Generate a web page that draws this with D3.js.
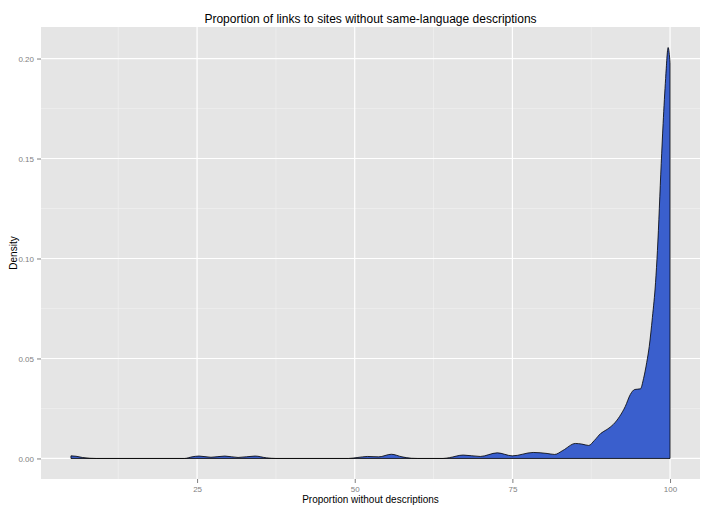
<!DOCTYPE html>
<html>
<head>
<meta charset="utf-8">
<script src="https://cdn.jsdelivr.net/npm/d3@7"></script>
<style>
  html, body { margin: 0; padding: 0; background: #ffffff; }
  svg { display: block; font-family: "Liberation Sans", Arial, Helvetica, sans-serif; }
</style>
</head>
<body>
<svg id="chart" width="712" height="512"></svg>
<script>
// ---- data ----
const densityX = [5, 5.8, 6.8, 8, 9, 23, 24.2, 25.3, 27.2, 29.4, 31.5, 34.2, 36, 37.5,
  49, 50.5, 52, 53.8, 55.8, 57.5, 59, 60, 64, 65, 67.2, 69.9, 72.6, 75, 78.3, 80.5, 81.7,
  83, 85, 86, 87.1, 88, 89, 90, 91, 92, 92.9, 93.7, 94.4, 95.3, 95.8, 96.3, 96.7, 97.2,
  97.7, 98.0, 98.6, 98.9, 99.3, 99.7, 100];
const densityY = [0.0013, 0.0011, 0.0005, 0.0001, 0, 0, 0.0008, 0.0012, 0.0006, 0.0012, 0.0005, 0.0012, 0.0003, 0,
  0, 0.0005, 0.0010, 0.0008, 0.0021, 0.0008, 0.0001, 0, 0, 0.0004, 0.0017, 0.0010, 0.0028, 0.0013, 0.0030, 0.0025, 0.0020,
  0.0040, 0.0075, 0.0072, 0.0065, 0.0090, 0.0125, 0.0145, 0.0170, 0.0210, 0.0260, 0.0320, 0.0345, 0.0348, 0.0400, 0.0480, 0.0560, 0.0705,
  0.0880, 0.1040, 0.1475, 0.1675, 0.1900, 0.2055, 0.1980];
const xTicks = [25, 50, 75, 100];
const xMinor = [12.5, 37.5, 62.5, 87.5];
const yTicks = [0, 0.05, 0.10, 0.15, 0.20];
const yMinor = [0.025, 0.075, 0.125, 0.175];
const titleText = "Proportion of links to sites without same-language descriptions";
const xLabel = "Proportion without descriptions";
const yLabel = "Density";

// ---- layout ----
const svg = d3.select("#chart");
const panel = { left: 41, right: 700, top: 27, bottom: 479 };

const xMin = d3.min(densityX), xMax = d3.max(densityX);
const xPad = (xMax - xMin) * 0.05;
const yMaxD = d3.max(densityY);
const yPad = yMaxD * 0.05;

const x = d3.scaleLinear().domain([xMin - xPad, xMax + xPad]).range([panel.left, panel.right]);
const y = d3.scaleLinear().domain([-yPad, yMaxD + yPad]).range([panel.bottom, panel.top]);

// panel background
svg.append("rect")
  .attr("x", panel.left).attr("y", panel.top)
  .attr("width", panel.right - panel.left).attr("height", panel.bottom - panel.top)
  .attr("fill", "#E5E5E5");

const grid = svg.append("g");
// minor grid
grid.selectAll(".vminor").data(xMinor).enter().append("line")
  .attr("x1", d => x(d)).attr("x2", d => x(d))
  .attr("y1", panel.top).attr("y2", panel.bottom)
  .attr("stroke", "#F2F2F2").attr("stroke-width", 0.6);
grid.selectAll(".hminor").data(yMinor).enter().append("line")
  .attr("y1", d => y(d)).attr("y2", d => y(d))
  .attr("x1", panel.left).attr("x2", panel.right)
  .attr("stroke", "#F2F2F2").attr("stroke-width", 0.6);
// major grid
grid.selectAll(".vmajor").data(xTicks).enter().append("line")
  .attr("x1", d => x(d)).attr("x2", d => x(d))
  .attr("y1", panel.top).attr("y2", panel.bottom)
  .attr("stroke", "#FFFFFF").attr("stroke-width", 1.2);
grid.selectAll(".hmajor").data(yTicks).enter().append("line")
  .attr("y1", d => y(d)).attr("y2", d => y(d))
  .attr("x1", panel.left).attr("x2", panel.right)
  .attr("stroke", "#FFFFFF").attr("stroke-width", 1.2);

// density area (closed outline like ggplot geom_density)
const pts = densityX.map((d, i) => [d, densityY[i]]);
const line = d3.line().x(d => x(d[0])).y(d => y(d[1])).curve(d3.curveMonotoneX);
const topPath = line(pts);
const areaPath = topPath + "L" + x(xMax) + "," + y(0) + "L" + x(xMin) + "," + y(0) + "Z";
svg.append("path")
  .attr("d", areaPath)
  .attr("fill", "#3A5FCD")
  .attr("stroke", "#000000")
  .attr("stroke-width", 0.8)
  .attr("stroke-linejoin", "round");

// axes
const xAxis = d3.axisBottom(x).tickValues(xTicks).tickSize(4).tickPadding(3).tickFormat(d3.format("d"));
const gx = svg.append("g").attr("transform", `translate(0,${panel.bottom})`).call(xAxis);
const yAxis = d3.axisLeft(y).tickValues(yTicks).tickSize(4).tickPadding(3).tickFormat(d3.format(".2f"));
const gy = svg.append("g").attr("transform", `translate(${panel.left},0)`).call(yAxis);
[gx, gy].forEach(g => {
  g.select(".domain").remove();
  g.selectAll(".tick line").attr("stroke", "#7F7F7F");
  g.selectAll(".tick text").attr("fill", "#7F7F7F").attr("font-size", 8)
    .attr("font-family", "'Liberation Sans', Arial, sans-serif");
});

// titles
svg.append("text")
  .attr("x", (panel.left + panel.right) / 2).attr("y", 23)
  .attr("text-anchor", "middle").attr("font-size", 12).attr("fill", "#000")
  .text(titleText);
svg.append("text")
  .attr("x", (panel.left + panel.right) / 2).attr("y", 503)
  .attr("text-anchor", "middle").attr("font-size", 10).attr("fill", "#000")
  .text(xLabel);
svg.append("text")
  .attr("transform", `translate(17,${(panel.top + panel.bottom) / 2}) rotate(-90)`)
  .attr("text-anchor", "middle").attr("font-size", 10).attr("fill", "#000")
  .text(yLabel);
</script>
</body>
</html>
